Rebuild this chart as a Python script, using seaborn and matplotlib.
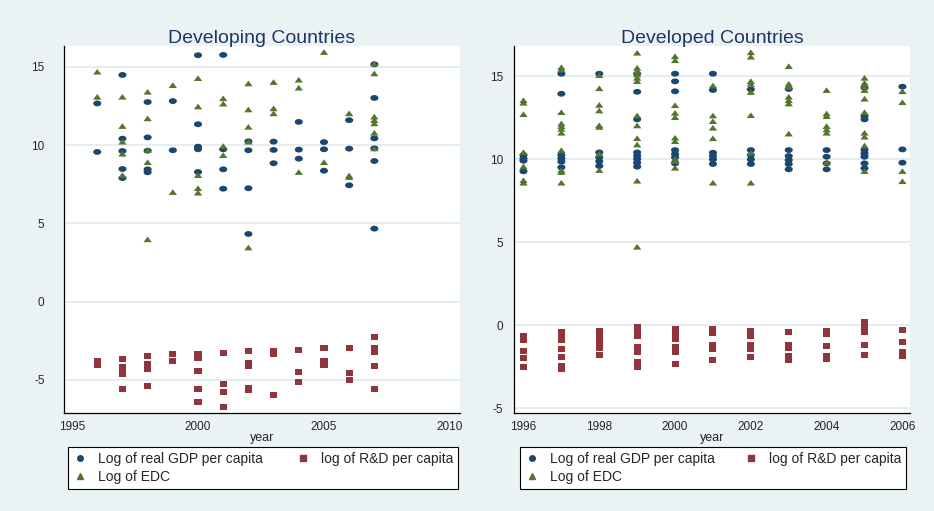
import numpy as np
import pandas as pd
import matplotlib
matplotlib.use("Agg")
import matplotlib.pyplot as plt
import seaborn as sns
from matplotlib.path import Path
from matplotlib.markers import MarkerStyle
from matplotlib.lines import Line2D

# ---------------- data: developing countries ----------------
dev_years = [1996, 1997, 1998, 1999, 2000, 2001, 2002, 2003, 2004, 2005, 2006, 2007]
dev_gdp = [
    [12.67, 9.57],
    [14.49, 10.42, 9.63, 8.48, 7.9],
    [12.76, 10.5, 9.65, 8.46, 8.27],
    [12.82, 9.68],
    [15.75, 11.34, 9.91, 9.74, 8.29],
    [15.77, 9.74, 8.46, 7.22],
    [10.25, 9.68, 7.25, 4.33],
    [10.23, 9.7, 8.85],
    [11.49, 9.72, 9.14],
    [10.2, 9.74, 8.37],
    [11.6, 9.78, 7.44],
    [15.17, 13.02, 10.44, 9.8, 8.99, 4.67],
]
dev_edc = [
    [14.66, 13.06],
    [13.06, 11.19, 10.19, 9.42, 8.05],
    [13.38, 11.68, 9.65, 8.88, 3.95],
    [13.8, 6.97],
    [14.25, 12.44, 8.05, 7.22, 6.93],
    [12.96, 12.62, 9.91, 9.33],
    [13.91, 12.25, 11.14, 10.19, 3.43],
    [14.0, 12.32, 12.0],
    [14.15, 13.64, 8.25],
    [15.92, 8.88],
    [12.0, 8.03, 7.93],
    [15.19, 14.55, 11.79, 11.57, 11.36, 10.76, 9.76],
]
dev_rd = [
    [-3.78, -4.04],
    [-3.63, -4.2, -4.4, -4.6, -5.55],
    [-3.48, -4.0, -4.27, -5.36],
    [-3.34, -3.76],
    [-3.34, -3.61, -4.42, -5.59, -6.4],
    [-3.3, -5.23, -5.78, -6.72],
    [-3.16, -3.93, -4.1, -5.53, -5.66],
    [-3.12, -3.34, -5.98],
    [-3.06, -4.51, -5.12],
    [-2.95, -3.76, -4.04],
    [-2.93, -4.55, -4.98],
    [-2.25, -2.93, -3.08, -3.19, -4.08, -5.55],
]

# ---------------- data: developed countries ----------------
dvd_years = [1996, 1997, 1998, 1999, 2000, 2001, 2002, 2003, 2004, 2005, 2006]
dvd_gdp = [
    [10.24, 10.04, 9.9, 9.26],
    [15.14, 13.93, 10.24, 10.04, 9.84, 9.5],
    [15.14, 10.4, 10.1, 9.86, 9.58],
    [15.14, 14.05, 12.39, 10.4, 10.2, 10.0, 9.78, 9.54],
    [15.14, 14.68, 14.08, 10.54, 10.3, 10.1, 9.74],
    [15.14, 14.16, 10.38, 10.18, 9.98, 9.7],
    [14.2, 10.54, 10.24, 9.98, 9.7],
    [14.22, 10.54, 10.18, 9.94, 9.7, 9.38],
    [10.54, 10.14, 9.74, 9.38],
    [14.3, 12.59, 12.39, 10.54, 10.34, 10.14, 9.74, 9.44],
    [14.36, 10.58, 9.78],
]
dvd_edc = [
    [13.51, 13.36, 12.67, 10.38, 9.52, 8.69, 8.54],
    [15.5, 15.36, 12.79, 12.11, 11.95, 11.79, 11.55, 10.5, 9.3, 9.18, 8.54],
    [15.02, 14.23, 13.23, 12.89, 12.0, 11.9, 10.28, 9.3],
    [16.37, 15.46, 15.26, 15.06, 14.86, 14.66, 12.59, 11.99, 11.22, 10.84, 8.66, 4.68],
    [16.16, 15.92, 13.21, 12.75, 12.49, 11.25, 11.04, 9.98, 9.84, 9.44],
    [14.4, 12.59, 12.25, 11.85, 11.22, 8.54],
    [16.4, 16.13, 14.66, 14.5, 14.0, 12.61, 10.34, 8.54],
    [15.56, 14.5, 14.32, 13.72, 13.51, 13.31, 11.5],
    [14.12, 12.71, 12.55, 11.95, 11.75, 11.55, 9.78],
    [14.86, 14.56, 14.36, 14.12, 13.6, 12.79, 11.55, 11.31, 10.78, 9.24],
    [14.05, 13.39, 9.24, 8.63],
]
dvd_rd = [
    [-0.69, -0.89, -1.55, -2.01, -2.55],
    [-0.4, -0.64, -0.9, -1.45, -1.95, -2.45, -2.65],
    [-0.34, -0.6, -0.89, -1.14, -1.41, -1.79],
    [-0.14, -0.4, -0.64, -1.35, -1.65, -2.25, -2.55],
    [-0.24, -0.54, -0.84, -1.35, -1.61, -2.35],
    [-0.24, -0.48, -1.2, -1.45, -2.09],
    [-0.34, -0.64, -1.2, -1.45, -1.95],
    [-0.44, -1.2, -1.39, -1.89, -2.09],
    [-0.34, -0.54, -1.29, -1.85, -2.05],
    [0.16, -0.14, -0.4, -1.2, -1.81],
    [-0.28, -1.0, -1.65, -1.85],
]

labels = ["Log of real GDP per capita", "Log of EDC", "log of R&D per capita"]
dev_xticks = [1995, 2000, 2005, 2010]
dvd_xticks = [1996, 1998, 2000, 2002, 2004, 2006]
yticks = [-5, 0, 5, 10, 15]

NAVY = "#1a476f"
GREEN = "#55752f"
MAROON = "#90353b"
BG = "#eaf2f3"
GRID = "#e4ecee"
TITLE = "#1e3764"


def long_frame(years, groups):
    rows = [(y, v) for y, vals in zip(years, groups) for v in vals]
    return pd.DataFrame(rows, columns=["year", "value"])


# slightly wide marker shapes
ellipse = MarkerStyle(Path.unit_circle().transformed(
    matplotlib.transforms.Affine2D().scale(1.0, 0.72)))
tri = MarkerStyle(Path([(-1, -0.55), (1, -0.55), (0, 0.8), (-1, -0.55)],
                       [Path.MOVETO, Path.LINETO, Path.LINETO, Path.CLOSEPOLY]))
rect = MarkerStyle(Path([(-1, -0.85), (1, -0.85), (1, 0.85), (-1, 0.85), (-1, -0.85)],
                        [Path.MOVETO, Path.LINETO, Path.LINETO, Path.LINETO, Path.CLOSEPOLY]))

sns.set_style("white")
plt.rcParams["font.family"] = ["Liberation Sans", "DejaVu Sans"]
plt.rcParams["axes.unicode_minus"] = False

W, H = 934, 511
fig = plt.figure(figsize=(W / 100, H / 100), dpi=100, facecolor=BG)


def px_rect(l, t, r, b):
    return [l / W, 1 - b / H, (r - l) / W, (b - t) / H]


panels = [
    dict(rect=px_rect(64, 46, 460, 413), years=dev_years, gdp=dev_gdp, edc=dev_edc, rd=dev_rd,
         title="Developing Countries", xlim=(1994.68, 2010.4), ylim=(-7.11, 16.34),
         xticks=dev_xticks, legend=(68, 447, 458), ypad=10),
    dict(rect=px_rect(514, 46, 910, 413), years=dvd_years, gdp=dvd_gdp, edc=dvd_edc, rd=dvd_rd,
         title="Developed Countries", xlim=(1995.75, 2006.2), ylim=(-5.3, 16.81),
         xticks=dvd_xticks, legend=(520, 447, 906), ypad=4),
]

for p in panels:
    ax = fig.add_axes(p["rect"])
    ax.set_facecolor("white")
    for ygrid in yticks:
        ax.axhline(ygrid, color=GRID, lw=1.3, zorder=0)

    for groups, color, mk, size in [(p["gdp"], NAVY, ellipse, 34),
                                    (p["rd"], MAROON, rect, 26),
                                    (p["edc"], GREEN, tri, 36)]:
        sns.scatterplot(data=long_frame(p["years"], groups), x="year", y="value", ax=ax,
                        color=color, marker=mk, s=size, linewidth=0, edgecolor="none",
                        legend=False, zorder=3)

    ax.set_xlim(*p["xlim"])
    ax.set_ylim(*p["ylim"])
    ax.set_xticks(p["xticks"])
    ax.set_yticks(yticks)
    ax.tick_params(axis="both", labelsize=8.5, length=4, width=0.8, color="black",
                   direction="out")
    ax.tick_params(axis="y", pad=p["ypad"])
    ax.tick_params(axis="x", pad=2)
    for side in ("top", "right"):
        ax.spines[side].set_visible(False)
    for side in ("left", "bottom"):
        ax.spines[side].set_color("black")
        ax.spines[side].set_linewidth(0.9)
    ax.set_xlabel("year", fontsize=9, labelpad=-1)
    ax.set_ylabel("")
    ax.set_title(p["title"], fontsize=14, color=TITLE, pad=2)

    handles = [
        Line2D([], [], ls="none", marker="o", color=NAVY, markersize=4),
        Line2D([], [], ls="none", marker="^", color=GREEN, markersize=4),
        Line2D([], [], ls="none", marker="s", color=MAROON, markersize=4),
    ]
    l, t, r = p["legend"]
    leg = fig.legend(handles, labels, ncol=2, loc="upper left",
                     bbox_to_anchor=(l / W, 1 - t / H, (r - l) / W, 0.0001),
                     mode="expand", frameon=True, fancybox=False, edgecolor="black",
                     facecolor="white", framealpha=1, fontsize=10, borderaxespad=0,
                     handlelength=1.0, handletextpad=0.8, labelspacing=0.3,
                     borderpad=0.35, columnspacing=1.0)
    leg.get_frame().set_linewidth(0.8)

fig.savefig("out.png", dpi=100, facecolor=BG)
